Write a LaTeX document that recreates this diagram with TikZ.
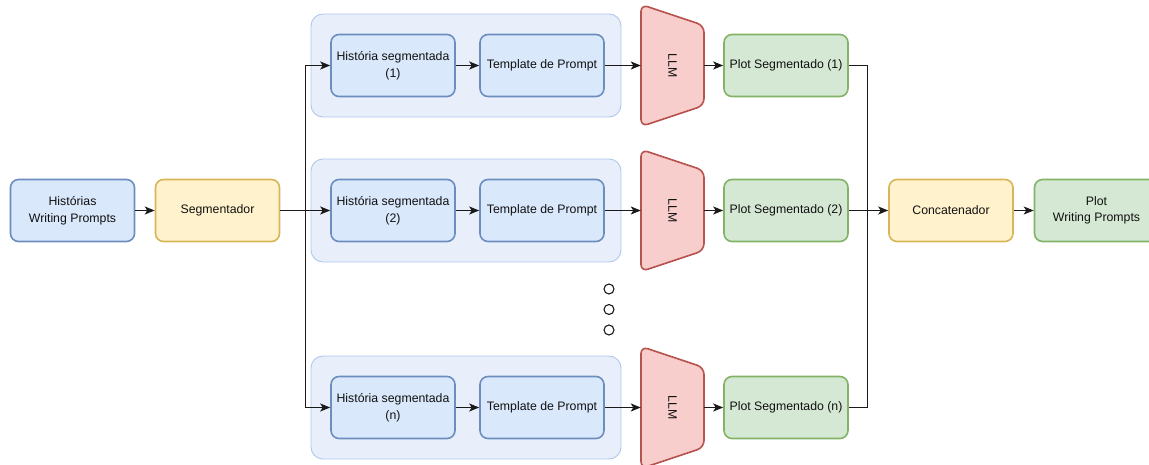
\documentclass[tikz,border=0pt]{standalone}
\usepackage{fontspec}
\setmainfont{Liberation Sans}
\usetikzlibrary{arrows.meta}
\definecolor{bluefill}{HTML}{DAE8FC}
\definecolor{bluedraw}{HTML}{6C8EBF}
\definecolor{grpfill}{HTML}{E8EFFB}
\definecolor{grpdraw}{HTML}{AFC7EC}
\definecolor{yelfill}{HTML}{FFF2CC}
\definecolor{yeldraw}{HTML}{D6B656}
\definecolor{grnfill}{HTML}{D5E8D4}
\definecolor{grndraw}{HTML}{82B366}
\definecolor{redfill}{HTML}{F8CECC}
\definecolor{reddraw}{HTML}{B85450}
\definecolor{ink}{HTML}{111111}
\definecolor{wire}{HTML}{1A1A1A}
\tikzset{
  base/.style={rectangle, rounded corners=8pt, line width=1.6pt, minimum width=124pt,
    minimum height=62pt, align=center, inner sep=2pt, text=ink,
    font=\fontsize{12.3}{16.5}\selectfont},
  bluebox/.style={base, draw=bluedraw, fill=bluefill},
  yelbox/.style={base, draw=yeldraw, fill=yelfill},
  grnbox/.style={base, draw=grndraw, fill=grnfill},
  group/.style={rectangle, rounded corners=12pt, draw=grpdraw, fill=grpfill,
    line width=0.9pt, minimum width=310pt, minimum height=103pt},
  llmbody/.style={draw=reddraw, fill=redfill, line width=1.6pt, rounded corners=7pt},
  llmtext/.style={rectangle, minimum width=63pt, minimum height=122pt, inner sep=0pt,
    text=ink, font=\fontsize{12.3}{14}\selectfont},
  wireline/.style={line width=1.2pt, draw=wire},
  arr/.style={wireline, -{Stealth[length=10pt,width=8pt,inset=2.5pt]}},
  dot/.style={circle, draw=wire, line width=1.1pt, minimum size=10pt, inner sep=0pt}
}
\begin{document}
\begin{tikzpicture}[x=1pt,y=-1pt]
\useasboundingbox (0,0) rectangle (1149,465);

% input and segmenter
\node[bluebox] (hist) at (72.5,210.5) {Histórias\\Writing Prompts};
\node[yelbox] (seg) at (217.5,210.5) {Segmentador};

% the three parallel branches
\foreach \i/\y/\lab in {1/65.5/1, 2/210.5/2, 3/407.5/n}{
  \node[group] (grp\i) at (466,\y) {};
  \node[bluebox] (hs\i) at (393,\y) {História segmentada\\(\lab)};
  \node[bluebox] (tp\i) at (542,\y) {Template de Prompt};
  \path[llmbody] (641,\y-61) -- (704,\y-40) -- (704,\y+40) -- (641,\y+61) -- cycle;
  \node[llmtext] (llm\i) at (672.5,\y) {\rotatebox{-90}{LLM}};
  \node[grnbox] (pl\i) at (786,\y) {Plot Segmentado (\lab)};
}

% ellipsis between branches
\node[dot] (d1) at (609,289) {};
\node[dot] (d2) at (609,309.5) {};
\node[dot] (d3) at (609,330) {};

% merge and output
\node[yelbox] (cat) at (951,210.5) {Concatenador};
\node[grnbox] (out) at (1096.5,210.5) {Plot\\Writing Prompts};

% split and join points
\coordinate (split) at ([xshift=25pt]seg.east);
\coordinate (join) at ([xshift=-21pt]cat.west);

% connectors
\draw[arr] (hist) -- (seg);
\draw[wireline] (seg.east) -- (split);
\foreach \i in {1,2,3}{
  \draw[arr] (split) |- (hs\i.west);
  \draw[arr] (hs\i) -- (tp\i);
  \draw[arr] (tp\i.east) -- (llm\i.west);
  \draw[arr] (llm\i.east) -- (pl\i.west);
  \draw[wireline] (pl\i.east) -| (join);
}
\draw[arr] (join) -- (cat.west);
\draw[arr] (cat) -- (out);
\end{tikzpicture}
\end{document}
